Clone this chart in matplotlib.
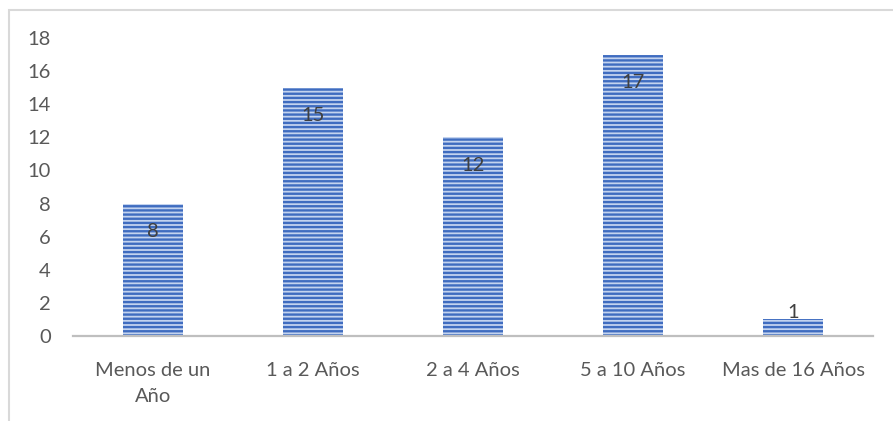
#!/usr/bin/env python3

import matplotlib
matplotlib.use("Agg")
import matplotlib.pyplot as plt
from matplotlib.patches import Rectangle
import numpy as np

categories = ["Menos de un\nAño", "1 a 2 Años", "2 a 4 Años", "5 a 10 Años", "Mas de 16 Años"]
values = [8, 15, 12, 17, 1]
y_ticks = [0, 2, 4, 6, 8, 10, 12, 14, 16, 18]

TEXT = "#595959"
BLUE = "#3f6cc0"
LIGHT = "#c3d3ef"

plt.rcParams["font.family"] = ["Lato", "DejaVu Sans"]
plt.rcParams["hatch.linewidth"] = 1.7

W, H = 893, 421
fig = plt.figure(figsize=(W / 100, H / 100), dpi=100)
ax = fig.add_axes([73 / W, 1 - 336 / H, 800 / W, 298 / H])

x = np.arange(len(categories))
bars = ax.bar(x, values, width=0.38, color=LIGHT, edgecolor=BLUE, hatch="----", linewidth=0)

ax.set_xlim(-0.5, len(categories) - 0.5)
ax.set_ylim(0, 18)
ax.set_yticks(y_ticks)
ax.set_xticks(x)
ax.set_xticklabels(categories, linespacing=1.65)
ax.tick_params(axis="both", length=0, labelsize=14.5, colors=TEXT)
ax.tick_params(axis="x", pad=19)
ax.tick_params(axis="y", pad=16)

for s in ["top", "right", "left"]:
    ax.spines[s].set_visible(False)
ax.spines["bottom"].set_color("#bfbfbf")
ax.spines["bottom"].set_linewidth(1.6)

# value labels: inside near top, above when the bar is too short
for b, v in zip(bars, values):
    cx = b.get_x() + b.get_width() / 2
    if v >= 3:
        ax.annotate(str(v), (cx, v), xytext=(0, -20), textcoords="offset points",
                    ha="center", va="center", fontsize=14.5, color="#404040")
    else:
        ax.annotate(str(v), (cx, v), xytext=(0, 5), textcoords="offset points",
                    ha="center", va="center", fontsize=14.5, color="#404040")

# chart area border (only top and left visible in the crop)
fig.add_artist(Rectangle((9 / W, -0.2), 1.2, 1.2 - 10 / H, transform=fig.transFigure,
                         fill=False, edgecolor="#d9d9d9", linewidth=1.5))

fig.savefig("out.png", dpi=100)
